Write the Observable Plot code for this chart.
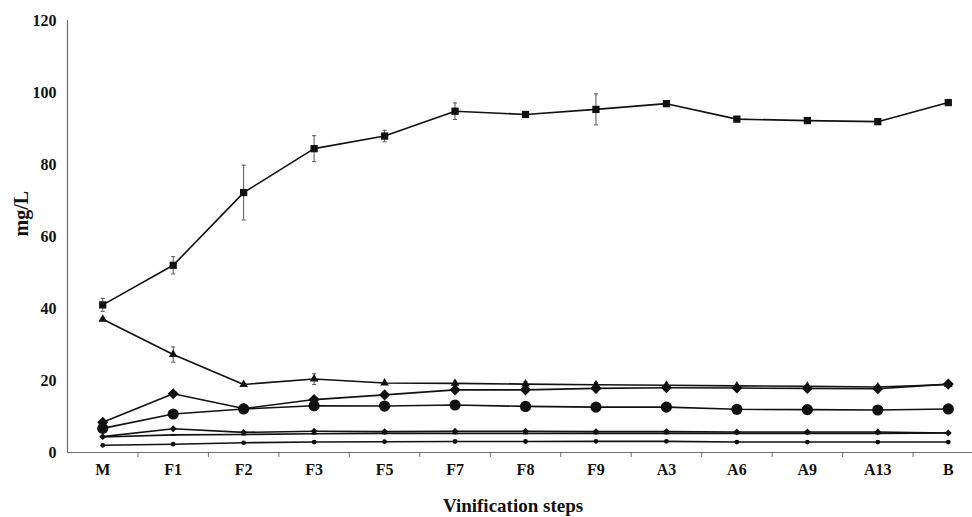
<!DOCTYPE html>
<html>
<head>
<meta charset="utf-8">
<script src="https://cdn.jsdelivr.net/npm/d3@7"></script>
<script src="https://cdn.jsdelivr.net/npm/@observablehq/plot@0.6"></script>
<style>
  html, body { margin: 0; padding: 0; background: #fff; }
  #chart svg { display: block; }
</style>
</head>
<body>
<div id="chart"></div>
<script>
const categories = ["M", "F1", "F2", "F3", "F5", "F7", "F8", "F9", "A3", "A6", "A9", "A13", "B"];
const yTicks = [0, 20, 40, 60, 80, 100, 120];

const squares      = [41.0, 52.0, 72.2, 84.4, 87.9, 94.8, 93.9, 95.3, 96.9, 92.6, 92.2, 91.9, 97.2];
const squaresErr   = [1.8, 2.4, 7.6, 3.6, 1.6, 2.3, 0, 4.3, 0.8, 0, 0, 0, 0];
const triangles    = [37.0, 27.2, 18.9, 20.4, 19.3, 19.2, 19.0, 18.8, 18.7, 18.5, 18.4, 18.2, 18.9];
const trianglesErr = [0, 2.1, 0, 1.5, 0, 0.6, 0.7, 0.6, 0, 0, 0, 0, 0];
const diamonds     = [8.4, 16.3, 12.2, 14.7, 16.0, 17.4, 17.4, 17.8, 18.0, 17.9, 17.8, 17.7, 19.0];
const circles      = [6.7, 10.7, 12.1, 13.0, 12.9, 13.2, 12.8, 12.6, 12.6, 12.0, 11.9, 11.8, 12.1];
const smallDiamonds = [4.4, 6.6, 5.6, 5.9, 5.8, 5.9, 5.9, 5.8, 5.8, 5.7, 5.7, 5.7, 5.4];
const dashes       = [4.3, 4.9, 5.0, 5.2, 5.3, 5.3, 5.3, 5.3, 5.3, 5.3, 5.3, 5.3, 5.4];
const smallCircles = [2.0, 2.3, 2.7, 2.9, 3.0, 3.05, 3.05, 3.1, 3.1, 2.9, 2.9, 2.9, 2.9];

const dashSymbol = {
  draw(context, size) {
    const w = Math.sqrt(size) * 1.1, h = Math.sqrt(size) * 0.4;
    context.rect(-w / 2, -h / 2, w, h);
  }
};
const capSymbol = {
  draw(context, size) {
    const w = Math.sqrt(size) / 2;
    context.moveTo(-w, 0);
    context.lineTo(w, 0);
  }
};

const series = [
  {name: "squares", values: squares, err: squaresErr, symbol: "square", r: 4.1},
  {name: "triangles", values: triangles, err: trianglesErr, symbol: "triangle", r: 3.2},
  {name: "diamonds", values: diamonds, symbol: "diamond2", r: 5.0},
  {name: "circles", values: circles, symbol: "circle", r: 5.6},
  {name: "smallDiamonds", values: smallDiamonds, symbol: "diamond2", r: 3.1},
  {name: "dashes", values: dashes, symbol: dashSymbol, r: 2.6},
  {name: "smallCircles", values: smallCircles, symbol: "circle", r: 2.4}
];

const indices = categories.map((_, i) => i);
const boundaries = categories.slice(0, -1).map((_, i) => i + 0.5);

const font = "Liberation Serif, Times New Roman, serif";

const marks = [
  Plot.ruleY([0], {stroke: "#6e6e6e", strokeWidth: 1.2}),
  Plot.ruleX([-0.5], {stroke: "#6e6e6e", strokeWidth: 1.2}),
  Plot.axisX({ticks: boundaries, tickSize: 5, tickFormat: () => "", stroke: "#6e6e6e", label: null}),
  Plot.axisX({ticks: indices, tickSize: 0, tickPadding: 11, tickFormat: i => categories[i],
    fontSize: 16, fontWeight: "bold", fill: "#111", label: null}),
  Plot.axisY({ticks: yTicks, tickSize: 0, tickPadding: 11, fontSize: 16, fontWeight: "bold", fill: "#111", label: null}),
  Plot.text(["mg/L"], {frameAnchor: "left", text: d => d, rotate: -90, dx: -46, fontSize: 20, fontWeight: "bold", fill: "#111"}),
  Plot.text(["Vinification steps"], {frameAnchor: "bottom", text: d => d, dy: 53, dx: -7, fontSize: 19, fontWeight: "bold", fill: "#111", lineAnchor: "middle"})
];

for (const s of series) {
  const rows = s.values.map((v, i) => ({i, v, e: s.err ? s.err[i] : 0}));
  const withErr = rows.filter(d => d.e > 0);
  if (withErr.length) {
    marks.push(Plot.ruleX(withErr, {x: "i", y1: d => d.v - d.e, y2: d => d.v + d.e, stroke: "#555", strokeWidth: 1}));
    marks.push(Plot.dot(withErr, {x: "i", y: d => d.v - d.e, symbol: capSymbol, r: 2.3, stroke: "#555", fill: "none", strokeWidth: 1}));
    marks.push(Plot.dot(withErr, {x: "i", y: d => d.v + d.e, symbol: capSymbol, r: 2.3, stroke: "#555", fill: "none", strokeWidth: 1}));
  }
  marks.push(Plot.line(rows, {x: "i", y: "v", stroke: "#111", strokeWidth: 1.6}));
  marks.push(Plot.dot(rows, {x: "i", y: "v", symbol: s.symbol, r: s.r, fill: "#111", stroke: "none"}));
}

const chart = Plot.plot({
  width: 972,
  height: 517,
  marginLeft: 67,
  marginRight: 0,
  marginTop: 20,
  marginBottom: 65,
  style: {fontFamily: font, fontSize: "16px", fontWeight: "bold", background: "#fff", overflow: "hidden"},
  x: {type: "linear", domain: [-0.5, categories.length - 0.5], range: [67, 983]},
  y: {domain: [0, 120]},
  marks
});
document.getElementById("chart").appendChild(chart);
</script>
</body>
</html>
